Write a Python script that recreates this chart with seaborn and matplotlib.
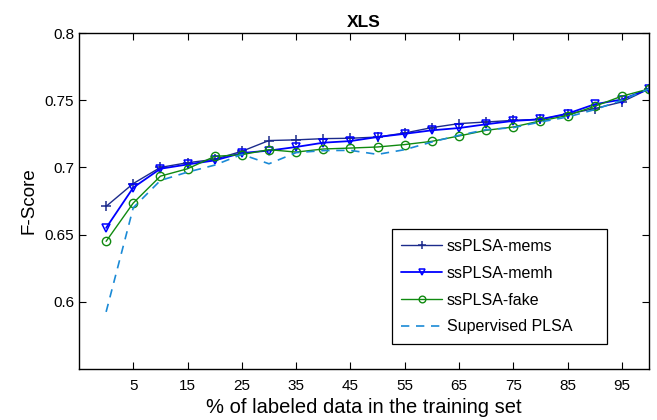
import numpy as np
import pandas as pd
import seaborn as sns
import matplotlib.pyplot as plt

# % of labeled data
pct = [0, 5, 10, 15, 20, 25, 30, 35, 40, 45, 50, 55, 60, 65, 70, 75, 80, 85, 90, 95, 100]

mems = [0.671, 0.688, 0.700, 0.7035, 0.706, 0.712, 0.720, 0.7205, 0.7214, 0.7217, 0.7226,
        0.7256, 0.7296, 0.7326, 0.7338, 0.735, 0.7358, 0.7396, 0.7438, 0.7487, 0.7584]
memh = [0.655, 0.685, 0.699, 0.7022, 0.7052, 0.7107, 0.7125, 0.7152, 0.7184, 0.7196, 0.7226,
        0.725, 0.7276, 0.7293, 0.7321, 0.7346, 0.7358, 0.740, 0.747, 0.7505, 0.7584]
fake = [0.645, 0.6735, 0.6935, 0.699, 0.7082, 0.7095, 0.7132, 0.7114, 0.7137, 0.7144, 0.7152,
        0.717, 0.7194, 0.7234, 0.7276, 0.7301, 0.7346, 0.7386, 0.7455, 0.753, 0.7584]
superv = [0.5925, 0.670, 0.6903, 0.6965, 0.7017, 0.7097, 0.7027, 0.711, 0.7125, 0.7127, 0.7097,
          0.7132, 0.7189, 0.7239, 0.7281, 0.7296, 0.7338, 0.7375, 0.743, 0.750, 0.7584]

series = {
    'ssPLSA-mems': mems,
    'ssPLSA-memh': memh,
    'ssPLSA-fake': fake,
    'Supervised PLSA': superv,
}
styles = {
    'ssPLSA-mems': dict(color='#1c2b8c', marker='+', markersize=7, lw=1.0, ls='-',
                        markeredgewidth=1.1),
    'ssPLSA-memh': dict(color='#0000ff', marker='v', markersize=6, lw=1.3, ls='-',
                        markerfacecolor='none', markeredgewidth=1.1),
    'ssPLSA-fake': dict(color='#108a10', marker='o', markersize=6, lw=1.0, ls='-',
                        markerfacecolor='none', markeredgewidth=1.0),
    'Supervised PLSA': dict(color='#1a8ad6', marker=None, lw=1.2, ls=(0, (5, 4))),
}

sns.set_style('white', {'xtick.direction': 'in', 'ytick.direction': 'in',
                        'text.color': 'black', 'axes.labelcolor': 'black'})
plt.rcParams['font.family'] = ['Liberation Sans', 'DejaVu Sans']

fig = plt.figure(figsize=(6.57, 4.2), dpi=100)
ax = fig.add_axes([0.1202, 0.1214, 0.8676, 0.8])

for name, vals in series.items():
    kw = dict(styles[name])
    ls = kw.pop('ls')
    if kw['marker'] is not None:
        kw['markeredgecolor'] = kw['color']
    sns.lineplot(x=pct, y=vals, ax=ax, label=name, linestyle=ls, **kw)

ax.set_xlim(-5, 100)
ax.set_ylim(0.55, 0.8)
ax.set_xticks([5, 15, 25, 35, 45, 55, 65, 75, 85, 95])
ax.set_yticks([0.6, 0.65, 0.7, 0.75, 0.8])
ax.set_yticklabels(['0.6', '0.65', '0.7', '0.75', '0.8'])
ax.tick_params(which='major', direction='in', length=5, width=0.8, labelsize=11,
               top=True, right=True, bottom=True, left=True,
               labeltop=False, labelright=False, color='black', labelcolor='black')
ax.tick_params(axis='x', pad=7)
for s in ax.spines.values():
    s.set_linewidth(1.0)
    s.set_color('black')

ax.set_title('XLS', fontsize=12.5, fontweight='bold', pad=4, color='black')
ax.set_xlabel('% of labeled data in the training set', fontsize=14.5, labelpad=4)
ax.set_ylabel('F-Score', fontsize=13.5, labelpad=5)

leg = ax.legend(loc='lower left', bbox_to_anchor=(0.5486, 0.0744, 0.3777, 0.339),
                mode='expand', fontsize=11.5, frameon=True, fancybox=False,
                edgecolor='black', framealpha=1, handlelength=2.55,
                handletextpad=0.3, borderpad=0.6, labelspacing=0.74,
                borderaxespad=0, markerscale=0.8)
leg.get_frame().set_linewidth(0.9)

fig.savefig('out.png', dpi=100)
